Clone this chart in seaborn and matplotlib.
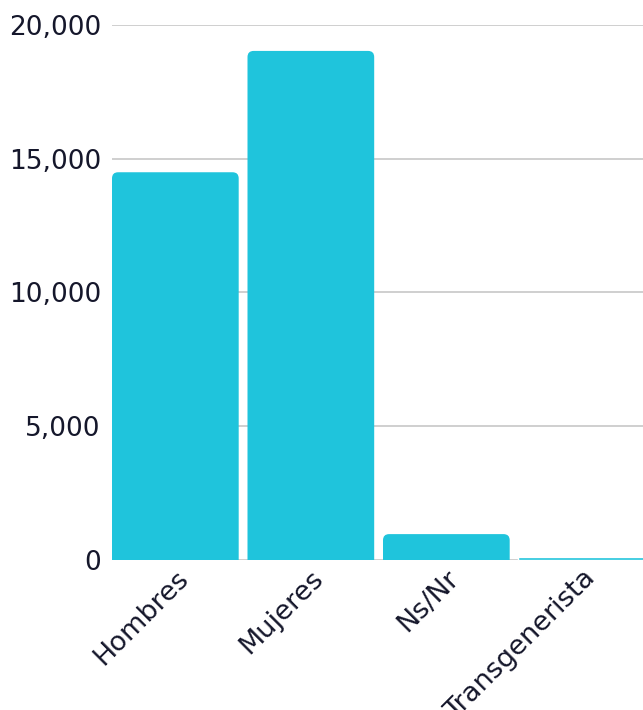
import matplotlib
matplotlib.use("Agg")
import matplotlib.pyplot as plt
import seaborn as sns
import pandas as pd
from matplotlib.patches import FancyBboxPatch
from matplotlib.ticker import FuncFormatter

categorias = ["Hombres", "Mujeres", "Ns/Nr", "Transgenerista"]
valores = [14490, 19030, 950, 90]

color_barra = "#1fc4dc"
color_texto = "#15172b"

sns.set_theme(style="white")
plt.rcParams["font.family"] = ["DejaVu Sans"]

df = pd.DataFrame({"genero": categorias, "total": valores})

fig = plt.figure(figsize=(6.43, 7.10), dpi=100)
ax = fig.add_axes([112 / 643, 1 - 559.5 / 710, 1 - 112 / 643, (559.5 - 25) / 710])

sns.barplot(data=df, x="genero", y="total", color=color_barra, saturation=1,
            width=0.935, ax=ax, zorder=3)

# round the top corners of the bars (bottom corners hide below y=0)
ry = 230
aspect = ry / 0.045
for p in list(ax.patches):
    h = p.get_height()
    x, w = p.get_x(), p.get_width()
    if h < 3 * ry:
        # very short bar: plain rectangle, drawn over the zero line
        p.set_zorder(5)
        p.set_clip_on(False)
        continue
    rb = FancyBboxPatch((x, -ry), w, h + ry,
                        boxstyle="round,pad=0,rounding_size=0.045",
                        mutation_aspect=aspect, facecolor=color_barra,
                        edgecolor="none", zorder=3)
    p.remove()
    ax.add_patch(rb)

ax.set_ylim(0, 20000)
ax.set_xlim(-0.4675, -0.4675 + 531 / 135.5)
ax.set_yticks([0, 5000, 10000, 15000, 20000])
ax.yaxis.set_major_formatter(FuncFormatter(lambda v, _: f"{int(v):,}"))
ax.grid(axis="y", color="#cfcfcf", linewidth=1.4, zorder=0)
ax.set_axisbelow(True)
sns.despine(ax=ax, left=True, bottom=True, right=True, top=True)

ax.set_xlabel("")
ax.set_ylabel("")
ax.tick_params(axis="y", length=0, pad=8, labelsize=19, labelcolor=color_texto)
ax.tick_params(axis="x", length=0, pad=4, labelsize=19.5, labelcolor=color_texto)
for lbl in ax.get_xticklabels():
    lbl.set_rotation(45)
    lbl.set_ha("right")
    lbl.set_va("top")
    lbl.set_rotation_mode("anchor")

fig.savefig("out.png", dpi=100)
